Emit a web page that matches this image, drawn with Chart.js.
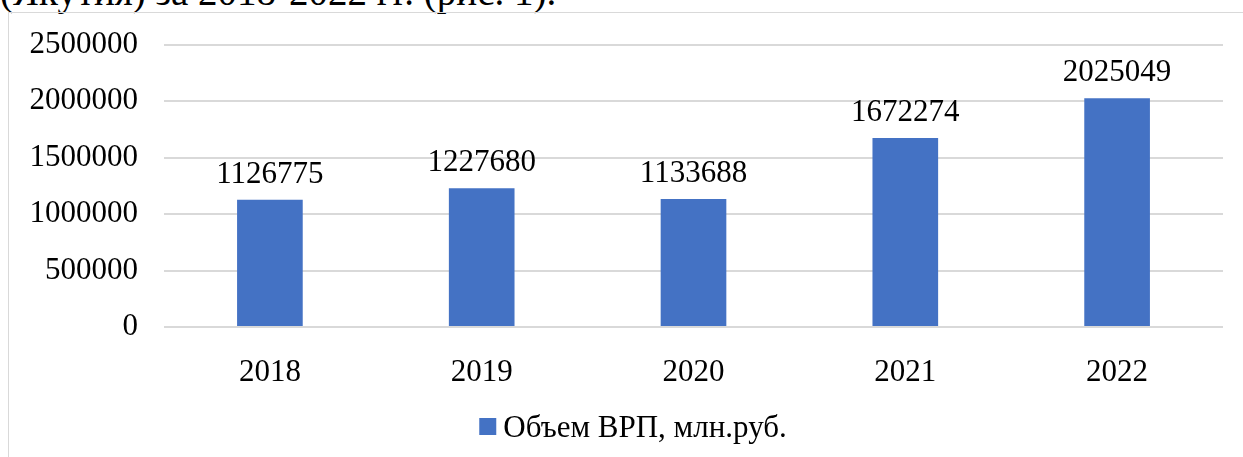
<!DOCTYPE html>
<html>
<head>
<meta charset="utf-8">
<script src="https://cdn.jsdelivr.net/npm/chart.js@4/dist/chart.umd.min.js"></script>
<style>
  body { margin: 0; background: #fff; overflow: hidden; }
  #caption {
    position: absolute; left: 0; top: -28px;
    font-family: "Liberation Serif", "Times New Roman", serif;
    font-size: 39px; line-height: 1; color: #000; white-space: nowrap;
  }
  #frame {
    position: absolute; left: 8px; top: 12px; width: 1300px; height: 500px;
    border: 1px solid #d9d9d9; box-sizing: border-box;
  }
  #wrap { position: absolute; left: 0; top: 0; width: 1243px; height: 457px; }
</style>
</head>
<body>
<div id="caption">(Якутия) за 2018-2022 гг. (рис. 1).</div>
<div id="frame"></div>
<div id="wrap"><canvas id="grpChart"></canvas></div>
<script>
const years = ['2018', '2019', '2020', '2021', '2022'];
const grpValues = [1126775, 1227680, 1133688, 1672274, 2025049];
const seriesName = 'Объем ВРП, млн.руб.';

const serif = '"Liberation Serif", "Times New Roman", serif';
const barColor = '#4472c4';

// values above the bars
const valueLabels = {
    id: 'valueLabels',
    afterDatasetsDraw(chart) {
        const ctx = chart.ctx;
        const meta = chart.getDatasetMeta(0);
        ctx.save();
        ctx.font = '31px ' + serif;
        ctx.fillStyle = '#000';
        ctx.textAlign = 'center';
        ctx.textBaseline = 'alphabetic';
        meta.data.forEach((bar, i) => {
            ctx.fillText(String(grpValues[i]), bar.x, bar.y - 17);
        });
        ctx.restore();
    }
};

// legend drawn by hand so the gap between the square and the text is tight
const bottomLegend = {
    id: 'bottomLegend',
    afterDraw(chart) {
        const ctx = chart.ctx;
        const label = chart.data.datasets[0].label;
        ctx.save();
        ctx.font = '31px ' + serif;
        const textW = ctx.measureText(label).width;
        const total = 17 + 7 + textW;
        const x0 = 633 - total / 2;
        ctx.fillStyle = barColor;
        ctx.fillRect(x0, 418, 17, 17);
        ctx.fillStyle = '#000';
        ctx.textBaseline = 'alphabetic';
        ctx.fillText(label, x0 + 24, 437);
        ctx.restore();
    }
};

new Chart(document.getElementById('grpChart'), {
    type: 'bar',
    data: {
        labels: years,
        datasets: [{
            label: seriesName,
            data: grpValues,
            backgroundColor: barColor,
            borderWidth: 0,
            categoryPercentage: 1,
            barPercentage: 0.31
        }]
    },
    options: {
        responsive: true,
        maintainAspectRatio: false,
        animation: false,
        layout: { padding: { top: 43, right: 20, bottom: 54, left: 0 } },
        scales: {
            x: {
                grid: { display: false },
                border: { display: false },
                ticks: { color: '#000', padding: 19, font: { family: serif, size: 31 } },
                afterFit(scale) { scale.height = 76; }
            },
            y: {
                min: 0,
                max: 2500000,
                grid: { color: '#d9d9d9', lineWidth: 2, drawTicks: false },
                border: { display: false },
                ticks: {
                    stepSize: 500000,
                    color: '#000',
                    padding: 26,
                    font: { family: serif, size: 31 },
                    callback: (v) => String(v)
                },
                afterFit(scale) { scale.width = 164; }
            }
        },
        plugins: {
            legend: { display: false },
            tooltip: { enabled: false }
        }
    },
    plugins: [valueLabels, bottomLegend]
});
</script>
</body>
</html>
